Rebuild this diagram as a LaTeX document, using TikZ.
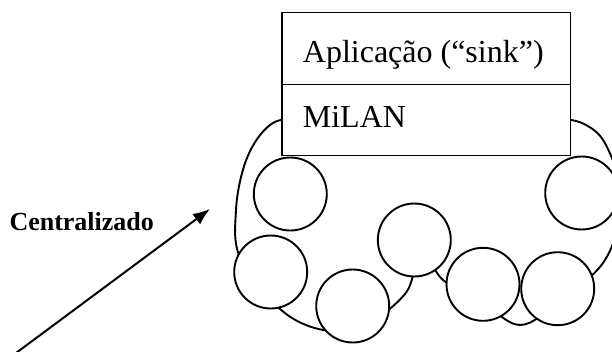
\documentclass[tikz,border=0pt]{standalone}
\usepackage{fontspec}
\setmainfont{Liberation Serif}
\usetikzlibrary{arrows.meta}
\begin{document}
\begin{tikzpicture}[x=1pt,y=-1pt,
  blob/.style={line width=1.9pt},
  sensor/.style={circle,draw,fill=white,line width=1.9pt,minimum size=73pt,inner sep=0pt},
  layerbox/.style={draw,fill=white,line width=1.4pt},
  layertext/.style={anchor=base west,inner sep=0pt,font=\fontsize{32}{38}\selectfont},
  pointer/.style={line width=2pt,-{Latex[length=17pt,width=13pt]}}]
\useasboundingbox (0,0) rectangle (612,351);

% outline of the network region (hidden parts run under the nodes and the box)
\draw[blob] plot[smooth cycle,tension=0.6] coordinates {
  (420,116) (350,117) (300,118) (270,125) (247,158) (236,210) (242,262)
  (292,318) (352,330) (405,294) (420,250) (443,280) (480,300) (520,325)
  (560,300) (605,260) (622,200) (607,147) (586,125) (555,118) (500,116)};

% sensor nodes
\node[sensor] (s1) at (290.3,194) {};
\node[sensor] (s2) at (270.7,272) {};
\node[sensor] (s3) at (352.7,306) {};
\node[sensor] (s4) at (414.3,240) {};
\node[sensor] (s5) at (483,284.3) {};
\node[sensor] (s6) at (557.7,288.7) {};
\node[sensor] (s7) at (581.7,193) {};

% sink stack: application over MiLAN
\draw[layerbox] (282,12.3) rectangle (570.7,84.7);
\draw[layerbox] (282,84.7) rectangle (570.7,155.7);
\node[layertext] (app) at (302.7,62.7) {Aplicação (“sink”)};
\node[layertext] (milan) at (302.7,127) {MiLAN};

% label and pointer
\node[anchor=base west,inner sep=0pt,font=\fontsize{26}{31}\selectfont\bfseries] (cent) at (9.3,230) {Centralizado};
\coordinate (from) at (16,353);
\coordinate (to) at (210,209);
\draw[pointer] (from) -- (to);
\end{tikzpicture}
\end{document}
